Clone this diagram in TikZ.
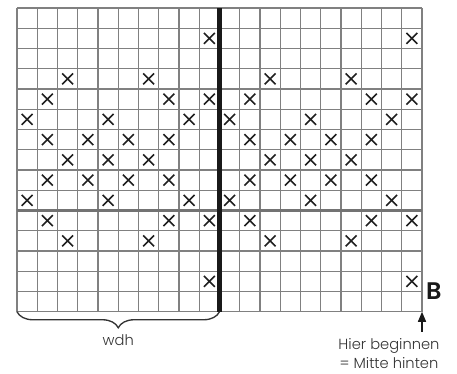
\documentclass[tikz,border=0pt]{standalone}
\usepackage{fontspec}
\setmainfont{Poppins}[UprightFont=* Light, BoldFont=* SemiBold]
\usetikzlibrary{positioning,arrows.meta,decorations.pathreplacing}

\begin{document}
\begin{tikzpicture}[
		x=15.1875pt,
		y=15.1875pt,
		>={Triangle[length=7.5pt,width=6pt]},
		gridline/.style={draw=black!50, line width=0.8pt, step=15.1875pt},
		midline/.style={draw=black!55, line width=1.6pt},
		centerline/.style={draw=black!90, line width=3.4pt},
		cross/.style={draw=black!88, line width=1.1pt},
		brace/.style={
			draw=black!80,
			line width=1pt,
			decorate,
			decoration={brace,amplitude=12pt}
		},
		label/.style={
			text=black!80,
			font=\fontsize{11}{14.25}\selectfont,
			align=center,
			inner sep=0pt
		}
		]
		
		\useasboundingbox (-0.8395,-3.0247) rectangle (21.728,15.395);
		
		%%%%%%%%%%%%%%%%%%%%%%%%%%%%%%%%%%%%%%%%%%%%%%%%%%%%%%%%%%%%
		% Grid
		%%%%%%%%%%%%%%%%%%%%%%%%%%%%%%%%%%%%%%%%%%%%%%%%%%%%%%%%%%%%
		
		\draw[gridline] (0,0) grid (20,15);
		
		\draw[midline] (0,5) -- (20,5);
		
		\coordinate (gridSW) at (0,0);
		\coordinate (gridSE) at (20,0);
		\coordinate (midS) at (10,0);
		\coordinate (midN) at (10,15);
		
		\draw[centerline] (midS) -- (midN);
		
		%%%%%%%%%%%%%%%%%%%%%%%%%%%%%%%%%%%%%%%%%%%%%%%%%%%%%%%%%%%%
		% Pattern (row from top / column), same in both halves
		%%%%%%%%%%%%%%%%%%%%%%%%%%%%%%%%%%%%%%%%%%%%%%%%%%%%%%%%%%%%
		
		\foreach \h in {0,10}{
			\foreach \r/\c in {2/10, 4/3, 4/7, 5/2, 5/8, 5/10, 6/1, 6/5, 6/9,
				7/2, 7/4, 7/6, 7/8, 8/3, 8/5, 8/7, 9/2, 9/4, 9/6, 9/8,
				10/1, 10/5, 10/9, 11/2, 11/8, 11/10, 12/3, 12/7, 14/10}{
				\draw[cross]
				({\h+\c-0.5-0.27},{15-\r+0.5-0.27}) -- ({\h+\c-0.5+0.27},{15-\r+0.5+0.27})
				({\h+\c-0.5-0.27},{15-\r+0.5+0.27}) -- ({\h+\c-0.5+0.27},{15-\r+0.5-0.27});
			}
		}
		
		%%%%%%%%%%%%%%%%%%%%%%%%%%%%%%%%%%%%%%%%%%%%%%%%%%%%%%%%%%%%
		% Labels
		%%%%%%%%%%%%%%%%%%%%%%%%%%%%%%%%%%%%%%%%%%%%%%%%%%%%%%%%%%%%
		
		\draw[brace] (midS) -- (gridSW);
		
		\node[label] (wdh) at (5,-1.4) {wdh};
		
		\node[label, font=\fontsize{18}{20}\selectfont\bfseries, text=black!90]
		(B) at (20.59,1.025) {B};
		
		\coordinate (start) at (20,-0.985);
		
		\draw[->, black!90, line width=1pt] (start) -- (gridSE);
		
		\node[label] (hint) at (18.37,-2.08)
		{Hier beginnen\\= Mitte hinten};
		
	\end{tikzpicture}
\end{document}
